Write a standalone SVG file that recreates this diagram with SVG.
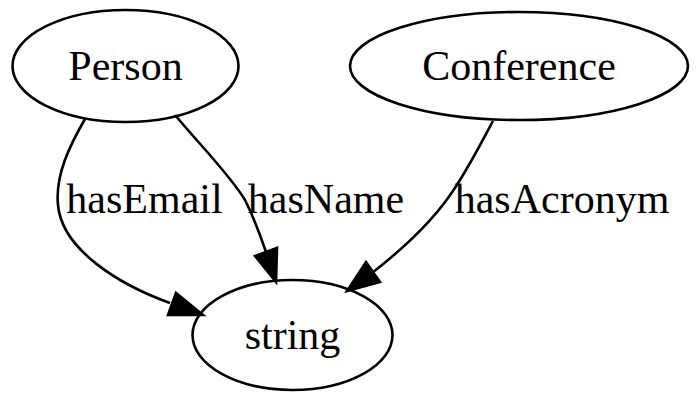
<svg xmlns="http://www.w3.org/2000/svg" width="700" height="403" viewBox="0 0 700 403">
<style>
.node ellipse{fill:none;stroke:#000;stroke-width:2.6}
.edge path{fill:none;stroke:#000;stroke-width:2.6}
.edge polygon{fill:#000;stroke:#000;stroke-width:2.6}
text{font-family:"Liberation Serif","Times New Roman",serif;font-size:42px;fill:#000;text-anchor:middle}
</style>
<rect width="700" height="403" fill="#fff"/>
<g id="edges">
<g class="edge" id="e_email">
<path d="M85,119 C70,145 55,175 58,205 C62,250 120,285 170,303"/>
<polygon points="203,315 176,293 168,315"/>
<text x="144.5" y="213">hasEmail</text>
</g>
<g class="edge" id="e_name">
<path d="M175,115 C200,145 230,175 245,200 C255,220 262,240 266,252"/>
<polygon points="276,282 277,248 255,256"/>
<text x="326" y="213">hasName</text>
</g>
<g class="edge" id="e_acronym">
<path d="M493,121 C480,145 465,175 448,198 C425,230 395,255 372,273"/>
<polygon points="347,291 380,282 366,262"/>
<text x="562" y="213">hasAcronym</text>
</g>
</g>
<g class="node" id="Person">
<ellipse cx="125.5" cy="66" rx="113" ry="56"/>
<text x="125.5" y="80">Person</text>
</g>
<g class="node" id="Conference">
<ellipse cx="519" cy="66" rx="169" ry="54"/>
<text x="519" y="80">Conference</text>
</g>
<g class="node" id="string">
<ellipse cx="292.5" cy="335" rx="100" ry="55"/>
<text x="292.5" y="349">string</text>
</g>
</svg>
